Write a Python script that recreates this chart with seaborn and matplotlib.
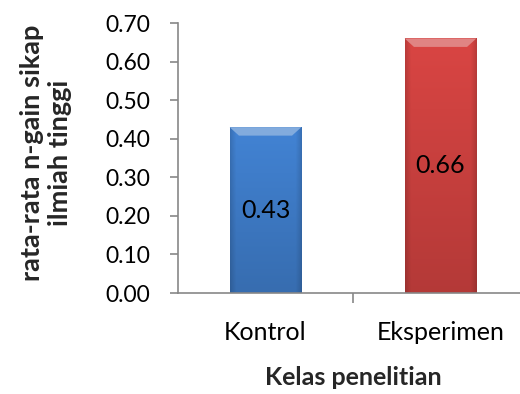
import numpy as np
import matplotlib
matplotlib.use("Agg")
import matplotlib.pyplot as plt
import matplotlib.colors as mcolors
import pandas as pd
import seaborn as sns

# Average high scientific-attitude n-gain per class
kelas = ["Kontrol", "Eksperimen"]
ngain = [0.43, 0.66]
warna = ["#3F7DCA", "#CF4240"]
y_ticks = [0.0, 0.1, 0.2, 0.3, 0.4, 0.5, 0.6, 0.7]

sns.set_theme(style="white")
plt.rcParams["font.family"] = ["Lato", "DejaVu Sans"]

df = pd.DataFrame({"kelas": kelas, "ngain": ngain})

fig = plt.figure(figsize=(5.2, 3.94), dpi=100)
ax = fig.add_axes([178 / 520, 1 - 293 / 394, 350 / 520, (293 - 23) / 394])

sns.barplot(data=df, x="kelas", y="ngain", hue="kelas", palette=warna,
            width=0.41, legend=False, ax=ax, saturation=1, linewidth=0)

ax.set_xlim(-0.5, 1.5)
ax.set_ylim(0, 0.70)


def shade(base, n=64):
    """Excel-style bevel: bright body, darker toward the base and the sides."""
    rgb = np.array(mcolors.to_rgb(base))
    h, w = 400, n
    xs = np.linspace(0, 1, w)
    ys = np.linspace(0, 1, h)  # 0 = top
    X, Y = np.meshgrid(xs, ys)
    f = 1.05 - 0.18 * Y
    edge = np.minimum(X, 1 - X)
    f = f * (0.86 + 0.14 * np.clip(edge / 0.08, 0, 1))
    return np.clip(rgb[None, None, :] * f[..., None], 0, 1)


for patch, base in zip(ax.patches, warna):
    x0, y0 = patch.get_x(), patch.get_y()
    w, h = patch.get_width(), patch.get_height()
    im = ax.imshow(shade(base), extent=[x0, x0 + w, y0, y0 + h], aspect="auto",
                   origin="upper", zorder=patch.get_zorder() + 0.1)
    im.set_clip_path(patch)
    # bevelled top rim
    rgb = np.array(mcolors.to_rgb(base))
    light = np.clip(rgb + (1 - rgb) * 0.35, 0, 1)
    bev = 0.022
    inset = w * 0.13
    poly = plt.Polygon([[x0, y0 + h], [x0 + w, y0 + h],
                        [x0 + w - inset, y0 + h - bev], [x0 + inset, y0 + h - bev]],
                       closed=True, facecolor=light, edgecolor="none",
                       zorder=patch.get_zorder() + 0.2)
    ax.add_patch(poly)
    patch.set_edgecolor("#B0B0B0")
    patch.set_linewidth(0.6)

for cont in ax.containers:
    ax.bar_label(cont, labels=[f"{v:.2f}" for v in cont.datavalues],
                 label_type="center", fontsize=18, color="black", zorder=10)

# axes styling
for side in ["top", "right"]:
    ax.spines[side].set_visible(False)
for side in ["left", "bottom"]:
    ax.spines[side].set_color("#878787")
    ax.spines[side].set_linewidth(1.2)

ax.set_yticks(y_ticks)
ax.set_yticklabels([f"{t:.2f}" for t in y_ticks])
ax.tick_params(axis="y", which="major", direction="out", length=6, width=1.2,
               color="#878787", labelsize=16.5, labelcolor="black", pad=14, left=True)
ax.tick_params(axis="x", which="major", length=0, labelsize=18, labelcolor="black", pad=20)
ax.set_xticks([0.5], minor=True)
ax.tick_params(axis="x", which="minor", direction="out", length=7, width=1.2,
               color="#878787", bottom=True)

ax.set_xlabel("Kelas penelitian", fontsize=18, fontweight="bold", labelpad=16)
ax.set_ylabel("rata-rata n-gain sikap\nilmiah tinggi", fontsize=19.5,
              fontweight="bold", linespacing=1.2)
ax.yaxis.set_label_coords(-(178 - 72) / 350, 0.52)

fig.savefig("out.png", dpi=100)
